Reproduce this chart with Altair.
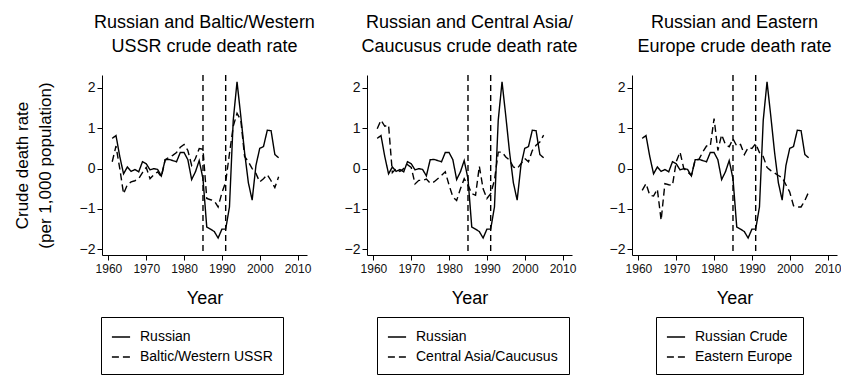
import altair as alt
import pandas as pd

years = list(range(1961, 2006))

russian = [0.75, 0.82, 0.30, -0.13, 0.04, -0.07, -0.02, -0.08, 0.17, 0.12,
           -0.03, 0.00, -0.02, -0.18, 0.22, 0.23, 0.20, 0.17, 0.40, 0.40,
           0.22, -0.27, -0.08, 0.20, -0.25, -1.45, -1.50, -1.56, -1.72, -1.50,
           -1.50, -0.95, 1.20, 2.15, 1.30, 0.40, -0.35, -0.78, 0.08, 0.50,
           0.55, 0.95, 0.94, 0.35, 0.27]

baltic_western = [0.17, 0.56, 0.00, -0.62, -0.40, -0.33, -0.30, -0.25, -0.10, 0.03,
                  -0.25, -0.15, -0.08, -0.20, 0.22, 0.28, 0.33, 0.40, 0.53, 0.60,
                  0.45, 0.08, 0.25, 0.50, 0.48, -0.74, -0.77, -0.80, -0.95, -0.60,
                  -0.33, 0.37, 1.05, 1.37, 1.20, 0.30, 0.17, 0.00, -0.12, -0.33,
                  -0.25, -0.15, -0.30, -0.47, -0.20]

central_asia = [0.99, 1.20, 1.05, 1.08, -0.10, 0.00, -0.07, 0.00, 0.10, 0.03,
                -0.38, -0.29, -0.29, -0.26, -0.36, -0.33, -0.25, -0.17, -0.08, -0.41,
                -0.70, -0.79, -0.50, -0.25, -0.41, -0.62, -0.66, 0.06, -0.50, -0.74,
                -0.62, -0.29, 0.41, 0.41, 0.29, 0.21, 0.04, 0.00, 0.12, 0.25,
                0.17, 0.45, 0.58, 0.66, 0.83]

eastern_europe = [-0.54, -0.37, -0.66, -0.68, -0.51, -1.28, -0.37, -0.40, -0.41, 0.17,
                  0.41, 0.00, -0.08, -0.17, 0.21, 0.23, 0.41, 0.56, 0.56, 1.24,
                  0.45, 0.84, 0.60, 0.54, 0.74, 0.56, 0.60, 0.35, 0.52, 0.50,
                  0.62, 0.40, 0.30, 0.03, -0.05, -0.11, -0.17, -0.22, -0.40, -0.58,
                  -0.92, -0.95, -0.95, -0.79, -0.58]

event_years = [1985, 1991]

panel_titles = [
    ["Russian and Baltic/Western", "USSR crude death rate"],
    ["Russian and Central Asia/", "Caucusus crude death rate"],
    ["Russian and Eastern", "Europe crude death rate"],
]
russian_labels = ["Russian", "Russian", "Russian Crude"]
other_labels = ["Baltic/Western USSR", "Central Asia/Caucusus", "Eastern Europe"]
other_series = [baltic_western, central_asia, eastern_europe]
legend_x = [-1, 10, 24]

FONT = "Liberation Sans"
x_ticks = [1960, 1970, 1980, 1990, 2000, 2010]
y_ticks = [-2, -1, 0, 1, 2]


def panel(i):
    n = len(years)
    df = pd.DataFrame({
        "Year": years + years,
        "Rate": russian + other_series[i],
        "Series": [russian_labels[i]] * n + [other_labels[i]] * n,
    })
    ev = pd.DataFrame({"Year": event_years})
    x_axis = alt.Axis(values=x_ticks, format="d", title="Year", titlePadding=15,
                      labelFontSize=12, labelPadding=3)
    if i == 0:
        y_axis = alt.Axis(values=y_ticks, title=["Crude death rate", "(per 1,000 population)"],
                          titlePadding=25, titleLineHeight=23, titleFontSize=17,
                          labelFontSize=14)
    else:
        y_axis = alt.Axis(values=y_ticks, title=None, labelFontSize=14)
    xs = alt.Scale(domain=[1958.3, 2012.5], nice=False, zero=False)
    ys = alt.Scale(domain=[-2.14, 2.32], nice=False, zero=False)

    lines = alt.Chart(df).mark_line(color="black", strokeWidth=1.4).encode(
        x=alt.X("Year:Q", scale=xs, axis=x_axis),
        y=alt.Y("Rate:Q", scale=ys, axis=y_axis),
        strokeDash=alt.StrokeDash(
            "Series:N",
            scale=alt.Scale(domain=[russian_labels[i], other_labels[i]], range=[[1, 0], [7, 4]]),
            sort=[russian_labels[i], other_labels[i]],
            legend=alt.Legend(
                title=None, orient="none", legendX=legend_x[i], legendY=242,
                strokeColor="black", padding=10, symbolType="stroke",
                symbolStrokeColor="black", symbolStrokeWidth=1.5, symbolSize=330,
                labelFont=FONT, labelFontSize=14, labelColor="black", labelOffset=9,
                rowPadding=3,
            ),
        ),
    )
    rules = alt.Chart(ev).mark_rule(color="black", strokeWidth=1.4, strokeDash=[6, 4]).encode(
        x=alt.X("Year:Q", scale=xs)
    )
    return alt.layer(lines, rules).properties(
        width=205, height=180,
        title=alt.TitleParams(panel_titles[i], font=FONT, fontSize=18, fontWeight="normal",
                              anchor="middle", offset=18, lineHeight=24, color="black"),
    )


chart = alt.hconcat(panel(0), panel(1), panel(2), spacing=60, bounds="flush").resolve_scale(
    strokeDash="independent", x="independent", y="independent"
).properties(
    padding={"left": 5, "top": 6, "right": 0, "bottom": 0}
).configure(font=FONT).configure_view(stroke=None).configure_axis(
    grid=False, domainColor="black", tickColor="black", labelColor="#111",
    labelFont=FONT, labelFontSize=13, titleFont=FONT, titleFontSize=18,
    titleFontWeight="normal", titleColor="black", tickSize=5, labelPadding=2,
    domainWidth=1, tickWidth=1,
).configure_axisY(labelAngle=0)

chart.save("out.html", embed_options={"renderer": "svg", "actions": False})
